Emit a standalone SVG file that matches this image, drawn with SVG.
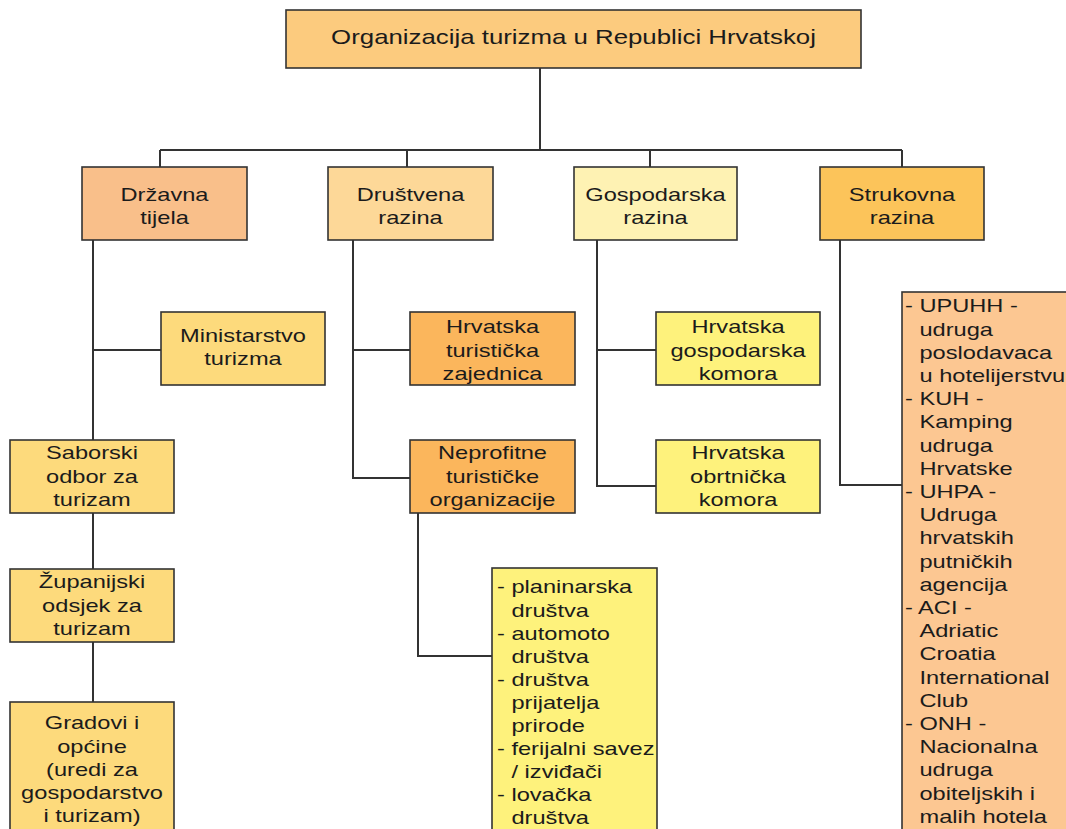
<svg xmlns="http://www.w3.org/2000/svg" width="1066" height="829" viewBox="0 0 1066 829">
<style>
.b{stroke:#333;stroke-width:1.6}
.t{font-family:"Liberation Sans",Arial,sans-serif;font-size:18.6px;fill:#1b1b1b;text-anchor:middle}
.l{font-family:"Liberation Sans",Arial,sans-serif;font-size:18.6px;fill:#1b1b1b;text-anchor:start}
.c{fill:none;stroke:#333;stroke-width:2}
</style>
<rect width="1066" height="829" fill="#fff"/>
<g id="connectors">
<path class="c" d="M540,68V150M160,150H902M160,150V167M407,150V167M650,150V167M902,150V167"/>
<path class="c" d="M93,240V440M93,350H161M93,513V569M93,642V702"/>
<path class="c" d="M353,240V478H410M353,350H410M418,513V656H493"/>
<path class="c" d="M597,240V486H656M597,350H656"/>
<path class="c" d="M840,240V485H902"/>
</g>
<g id="root">
<rect class="b" x="286" y="10" width="575" height="58" fill="#FCCB7E"/>
<text class="t" style="font-size:20.5px" transform="translate(573.5 0) scale(1.26 1)" x="0" y="44.5">Organizacija turizma u Republici Hrvatskoj</text>
</g>
<g id="drzavna">
<rect class="b" x="82" y="167" width="165" height="73" fill="#F9BF8A"/>
<text class="t" transform="translate(164.5 0) scale(1.27 1)"><tspan x="0" y="201.5">Državna</tspan><tspan x="0" y="224.5">tijela</tspan></text>
</g>
<g id="drustvena">
<rect class="b" x="328" y="167" width="165" height="73" fill="#FDD898"/>
<text class="t" transform="translate(410.5 0) scale(1.27 1)"><tspan x="0" y="201.5">Društvena</tspan><tspan x="0" y="224.5">razina</tspan></text>
</g>
<g id="gospodarska">
<rect class="b" x="574" y="167" width="163" height="73" fill="#FEF2B3"/>
<text class="t" transform="translate(655.5 0) scale(1.27 1)"><tspan x="0" y="201.5">Gospodarska</tspan><tspan x="0" y="224.5">razina</tspan></text>
</g>
<g id="strukovna">
<rect class="b" x="820" y="167" width="164" height="73" fill="#FCC45A"/>
<text class="t" transform="translate(902 0) scale(1.27 1)"><tspan x="0" y="201.5">Strukovna</tspan><tspan x="0" y="224.5">razina</tspan></text>
</g>
<g id="ministarstvo">
<rect class="b" x="161" y="312" width="164" height="73" fill="#FDDA7C"/>
<text class="t" transform="translate(243 0) scale(1.27 1)"><tspan x="0" y="342.5">Ministarstvo</tspan><tspan x="0" y="365.5">turizma</tspan></text>
</g>
<g id="saborski">
<rect class="b" x="10" y="440" width="164" height="73" fill="#FDDA7C"/>
<text class="t" transform="translate(92 0) scale(1.27 1)"><tspan x="0" y="459.5">Saborski</tspan><tspan x="0" y="483">odbor za</tspan><tspan x="0" y="506.5">turizam</tspan></text>
</g>
<g id="zupanijski">
<rect class="b" x="10" y="569" width="164" height="73" fill="#FDDA7C"/>
<text class="t" transform="translate(92 0) scale(1.27 1)"><tspan x="0" y="588.5">Županijski</tspan><tspan x="0" y="612">odsjek za</tspan><tspan x="0" y="635.5">turizam</tspan></text>
</g>
<g id="gradovi">
<rect class="b" x="10" y="702" width="164" height="140" fill="#FDDA7C"/>
<text class="t" transform="translate(92 0) scale(1.27 1)"><tspan x="0" y="729.5">Gradovi i</tspan><tspan x="0" y="752.7">općine</tspan><tspan x="0" y="775.9">(uredi za</tspan><tspan x="0" y="799.1">gospodarstvo</tspan><tspan x="0" y="822.3">i turizam)</tspan></text>
</g>
<g id="htz">
<rect class="b" x="410" y="312" width="165" height="73" fill="#FBB65C"/>
<text class="t" transform="translate(492.5 0) scale(1.27 1)"><tspan x="0" y="333.5">Hrvatska</tspan><tspan x="0" y="357">turistička</tspan><tspan x="0" y="380.5">zajednica</tspan></text>
</g>
<g id="neprofitne">
<rect class="b" x="410" y="440" width="165" height="73" fill="#FBB65C"/>
<text class="t" transform="translate(492.5 0) scale(1.27 1)"><tspan x="0" y="459.5">Neprofitne</tspan><tspan x="0" y="483">turističke</tspan><tspan x="0" y="506.5">organizacije</tspan></text>
</g>
<g id="hgk">
<rect class="b" x="656" y="312" width="164" height="73" fill="#FEF27C"/>
<text class="t" transform="translate(738 0) scale(1.27 1)"><tspan x="0" y="333.5">Hrvatska</tspan><tspan x="0" y="357">gospodarska</tspan><tspan x="0" y="380.5">komora</tspan></text>
</g>
<g id="hok">
<rect class="b" x="656" y="440" width="164" height="73" fill="#FEF27C"/>
<text class="t" transform="translate(738 0) scale(1.27 1)"><tspan x="0" y="459.5">Hrvatska</tspan><tspan x="0" y="483">obrtnička</tspan><tspan x="0" y="506.5">komora</tspan></text>
</g>
<g id="neprofitne-lista">
<rect class="b" x="492" y="568" width="165" height="274" fill="#FEF27C"/>
<text class="l" transform="translate(497 0) scale(1.27 1)"><tspan x="0" y="593.5">- planinarska</tspan><tspan x="11.4" dy="23.1">društva</tspan><tspan x="0" dy="23.1">- automoto</tspan><tspan x="11.4" dy="23.1">društva</tspan><tspan x="0" dy="23.1">- društva</tspan><tspan x="11.4" dy="23.1">prijatelja</tspan><tspan x="11.4" dy="23.1">prirode</tspan><tspan x="0" dy="23.1">- ferijalni savez</tspan><tspan x="11.4" dy="23.1">/ izviđači</tspan><tspan x="0" dy="23.1">- lovačka</tspan><tspan x="11.4" dy="23.1">društva</tspan></text>
</g>
<g id="strukovna-lista">
<rect class="b" x="902" y="292" width="180" height="550" fill="#FCC792"/>
<text class="l" transform="translate(905 0) scale(1.27 1)"><tspan x="0" y="312.5">- UPUHH -</tspan><tspan x="11.4" dy="23.2">udruga</tspan><tspan x="11.4" dy="23.2">poslodavaca</tspan><tspan x="11.4" dy="23.2">u hotelijerstvu</tspan><tspan x="0" dy="23.2">- KUH -</tspan><tspan x="11.4" dy="23.2">Kamping</tspan><tspan x="11.4" dy="23.2">udruga</tspan><tspan x="11.4" dy="23.2">Hrvatske</tspan><tspan x="0" dy="23.2">- UHPA -</tspan><tspan x="11.4" dy="23.2">Udruga</tspan><tspan x="11.4" dy="23.2">hrvatskih</tspan><tspan x="11.4" dy="23.2">putničkih</tspan><tspan x="11.4" dy="23.2">agencija</tspan><tspan x="0" dy="23.2">- ACI -</tspan><tspan x="11.4" dy="23.2">Adriatic</tspan><tspan x="11.4" dy="23.2">Croatia</tspan><tspan x="11.4" dy="23.2">International</tspan><tspan x="11.4" dy="23.2">Club</tspan><tspan x="0" dy="23.2">- ONH -</tspan><tspan x="11.4" dy="23.2">Nacionalna</tspan><tspan x="11.4" dy="23.2">udruga</tspan><tspan x="11.4" dy="23.2">obiteljskih i</tspan><tspan x="11.4" dy="23.2">malih hotela</tspan></text>
</g>
</svg>
